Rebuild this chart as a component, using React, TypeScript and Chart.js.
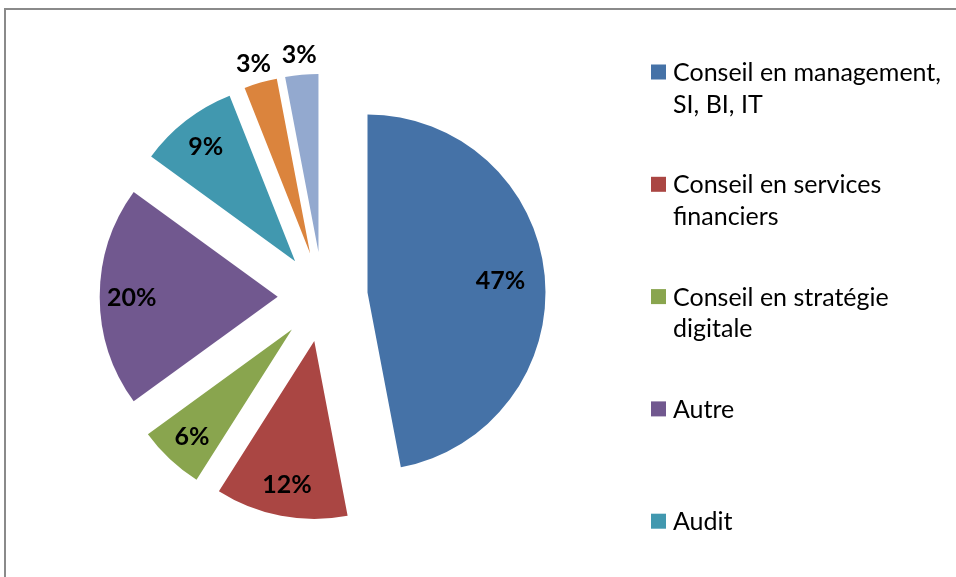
import React, { useEffect, useRef } from "react";
import { Chart, registerables } from "chart.js";

Chart.register(...registerables);

// ---- data ----
const categories: string[][] = [
  ["Conseil en management,", "SI, BI, IT"],
  ["Conseil en services", "financiers"],
  ["Conseil en stratégie", "digitale"],
  ["Autre"],
  ["Audit"],
  ["Catégorie 6"],
  ["Catégorie 7"],
];
const shares: number[] = [47, 12, 6, 20, 9, 3, 3];
const percentLabels: string[] = ["47%", "12%", "6%", "20%", "9%", "3%", "3%"];
const colors: string[] = ["#4572A7", "#AA4643", "#89A54E", "#71588F", "#4198AF", "#DB843D", "#93A9CF"];

// ---- style constants ----
const FONT = "Lato, 'Open Sans', sans-serif";
const EXPLODE = 45;
const RADIUS = 178;

const total = shares.reduce((a, b) => a + b, 0);

const framePlugin = {
  id: "frame",
  beforeDraw(chart: any) {
    const ctx = chart.ctx;
    ctx.save();
    ctx.fillStyle = "#ffffff";
    ctx.fillRect(0, 0, chart.width, chart.height);
    ctx.fillStyle = "#8a8a8a";
    ctx.fillRect(4, 8, 2, chart.height - 8);
    ctx.fillRect(4, 8, chart.width - 4, 2);
    ctx.restore();
  },
};

// Excel-style explosion: every slice is moved out along its bisector by the same distance
const explodePlugin = {
  id: "explode",
  afterDatasetUpdate(chart: any, args: any) {
    const arcs = args.meta.data;
    arcs.forEach((arc: any) => {
      const mid = (arc.startAngle + arc.endAngle) / 2;
      arc.x = arc.x + Math.cos(mid) * EXPLODE;
      arc.y = arc.y + Math.sin(mid) * EXPLODE;
    });
  },
};

const labelPlugin = {
  id: "pctLabels",
  afterDatasetsDraw(chart: any) {
    const ctx = chart.ctx;
    const meta = chart.getDatasetMeta(0);
    const size = 25;
    ctx.save();
    ctx.font = `bold ${size}px ${FONT}`;
    ctx.fillStyle = "#000000";
    ctx.textAlign = "center";
    ctx.textBaseline = "alphabetic";
    meta.data.forEach((arc: any, i: number) => {
      const p = arc.getProps(["x", "y", "startAngle", "endAngle", "outerRadius"], true);
      const mid = (p.startAngle + p.endAngle) / 2;
      const cx = Math.cos(mid);
      const sy = Math.sin(mid);
      const share = shares[i] / total;
      const text = percentLabels[i];
      let lx: number;
      let ly: number;
      if (share < 0.05) {
        const w = ctx.measureText(text).width;
        const h = size;
        const d = p.outerRadius + 8;
        lx = p.x + cx * d + (cx * w) / 2;
        ly = p.y + sy * d + (sy * h) / 2;
      } else {
        const d = p.outerRadius * (share > 0.3 ? 0.75 : 0.82);
        lx = p.x + cx * d;
        ly = p.y + sy * d;
      }
      ctx.fillText(text, lx, ly + size * 0.36);
    });
    ctx.restore();
  },
};

const legendPlugin = {
  id: "sideLegend",
  afterDraw(chart: any) {
    const ctx = chart.ctx;
    const size = 25;
    const x0 = 651;
    const y0 = 72;
    const itemStep = 112.3;
    const lineStep = 31.5;
    ctx.save();
    ctx.font = `${size}px ${FONT}`;
    ctx.textAlign = "left";
    ctx.textBaseline = "alphabetic";
    categories.forEach((lines, i) => {
      const cy = y0 + itemStep * i;
      ctx.fillStyle = colors[i];
      ctx.fillRect(x0, cy - 7.5, 15, 15);
      ctx.fillStyle = "#000000";
      lines.forEach((line, j) => {
        ctx.fillText(line, x0 + 22, cy + lineStep * j + size * 0.36);
      });
    });
    ctx.restore();
  },
};

export default function App() {
  const ref = useRef<HTMLCanvasElement | null>(null);

  useEffect(() => {
    if (!ref.current) return;
    const chart = new Chart(ref.current, {
      type: "pie",
      data: {
        labels: categories.map((l) => l.join(" ")),
        datasets: [
          {
            data: shares,
            backgroundColor: colors,
            borderWidth: 0,
            hoverOffset: 0,
            offset: 0,
            radius: RADIUS,
          } as any,
        ],
      },
      options: {
        responsive: false,
        animation: false,
        events: [],
        layout: { padding: { left: 72.7, right: 383.3, top: 36.7, bottom: 20.3 } },
        plugins: {
          legend: { display: false },
          tooltip: { enabled: false },
        },
      },
      plugins: [framePlugin, explodePlugin, labelPlugin, legendPlugin],
    });
    return () => chart.destroy();
  }, []);

  return (
    <div style={{ position: "fixed", left: 0, top: 0, width: 956, height: 577, background: "#fff", overflow: "hidden" }}>
      <canvas ref={ref} width={956} height={577} style={{ display: "block", width: 956, height: 577 }} />
    </div>
  );
}
